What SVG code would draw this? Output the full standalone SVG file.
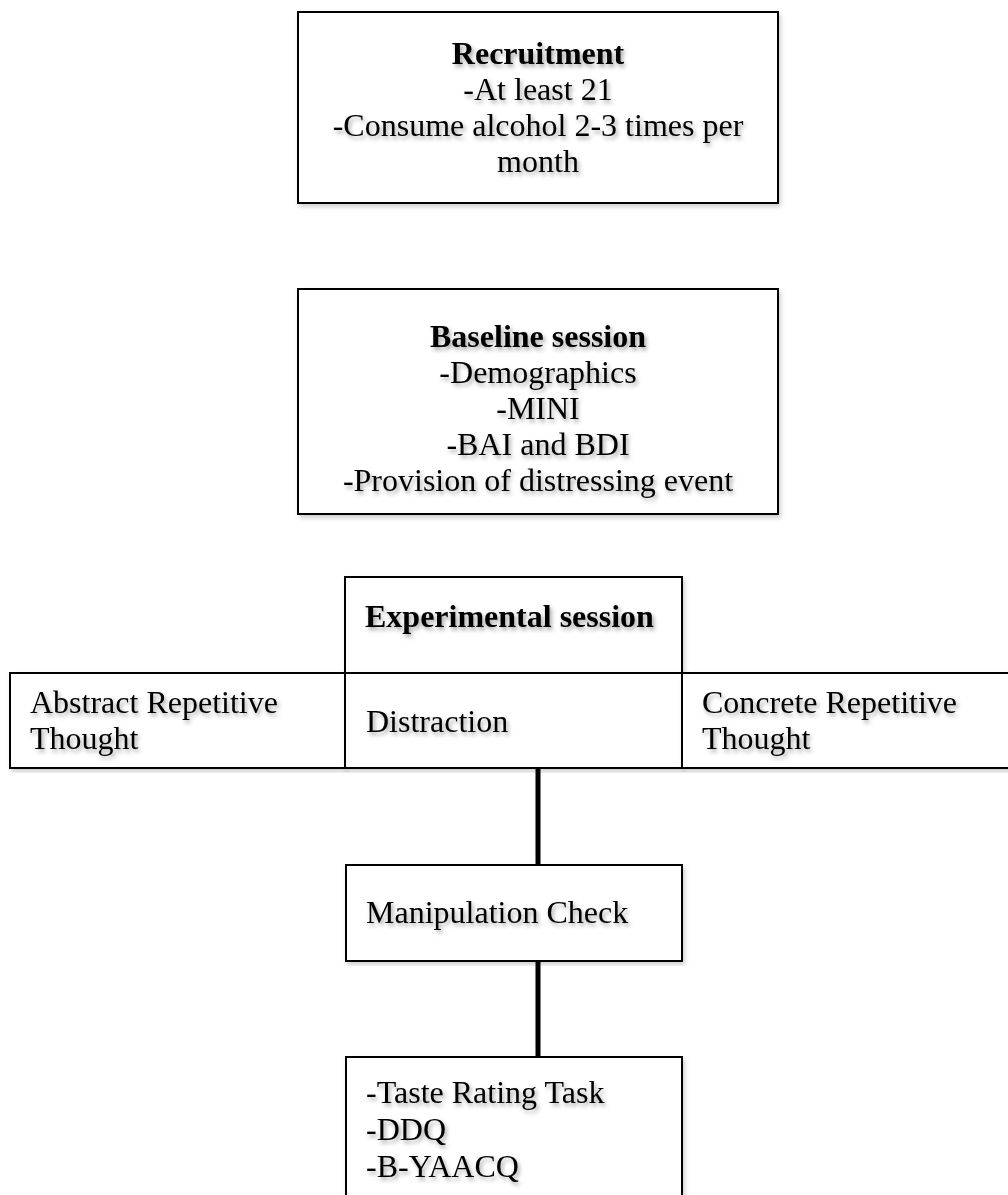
<svg xmlns="http://www.w3.org/2000/svg" width="1008" height="1195" viewBox="0 0 1008 1195">
<defs>
<filter id="ts" x="-10%" y="-30%" width="120%" height="160%">
<feDropShadow dx="2" dy="3" stdDeviation="2" flood-color="#000" flood-opacity="0.35"/>
</filter>
<filter id="bs" x="-5%" y="-5%" width="110%" height="110%">
<feDropShadow dx="2" dy="3" stdDeviation="2" flood-color="#000" flood-opacity="0.18"/>
</filter>
</defs>
<style>
.box{fill:#fff;stroke:#000;stroke-width:2;filter:url(#bs)}
.t{font-family:"Liberation Serif","Times New Roman",serif;font-size:32px;fill:#000;filter:url(#ts)}
.b{font-weight:bold}
.c{text-anchor:middle}
.conn{stroke:#000;stroke-width:5;fill:none}
</style>
<g id="connectors">
<line class="conn" x1="538" y1="768" x2="538" y2="865"/>
<line class="conn" x1="538" y1="961" x2="538" y2="1057"/>
</g>
<g id="recruitment">
<rect class="box" x="298" y="12" width="480" height="191"/>
<text class="t c"><tspan class="b" x="538" y="64">Recruitment</tspan><tspan x="538" y="100">-At least 21</tspan><tspan x="538" y="136">-Consume alcohol 2-3 times per</tspan><tspan x="538" y="172">month</tspan></text>
</g>
<g id="baseline">
<rect class="box" x="298" y="289" width="480" height="225"/>
<text class="t c"><tspan class="b" x="538" y="347">Baseline session</tspan><tspan x="538" y="383">-Demographics</tspan><tspan x="538" y="419">-MINI</tspan><tspan x="538" y="455">-BAI and BDI</tspan><tspan x="538" y="491">-Provision of distressing event</tspan></text>
</g>
<g id="experimental">
<rect class="box" x="345" y="577" width="337" height="96"/>
<text class="t b" x="365" y="627">Experimental session</text>
</g>
<g id="abstract">
<rect class="box" x="10" y="673" width="335" height="95"/>
<text class="t"><tspan x="30" y="713">Abstract Repetitive</tspan><tspan x="30" y="749">Thought</tspan></text>
</g>
<g id="distraction">
<rect class="box" x="345" y="673" width="337" height="95"/>
<text class="t" x="366" y="732">Distraction</text>
</g>
<g id="concrete">
<rect class="box" x="682" y="673" width="340" height="95"/>
<text class="t"><tspan x="702" y="713">Concrete Repetitive</tspan><tspan x="702" y="749">Thought</tspan></text>
</g>
<g id="manipulation">
<rect class="box" x="346" y="865" width="336" height="96"/>
<text class="t" x="366" y="923">Manipulation Check</text>
</g>
<g id="outcomes">
<rect class="box" x="346" y="1057" width="336" height="160"/>
<text class="t"><tspan x="366" y="1103">-Taste Rating Task</tspan><tspan x="366" y="1140">-DDQ</tspan><tspan x="366" y="1177">-B-YAACQ</tspan></text>
</g>
</svg>
